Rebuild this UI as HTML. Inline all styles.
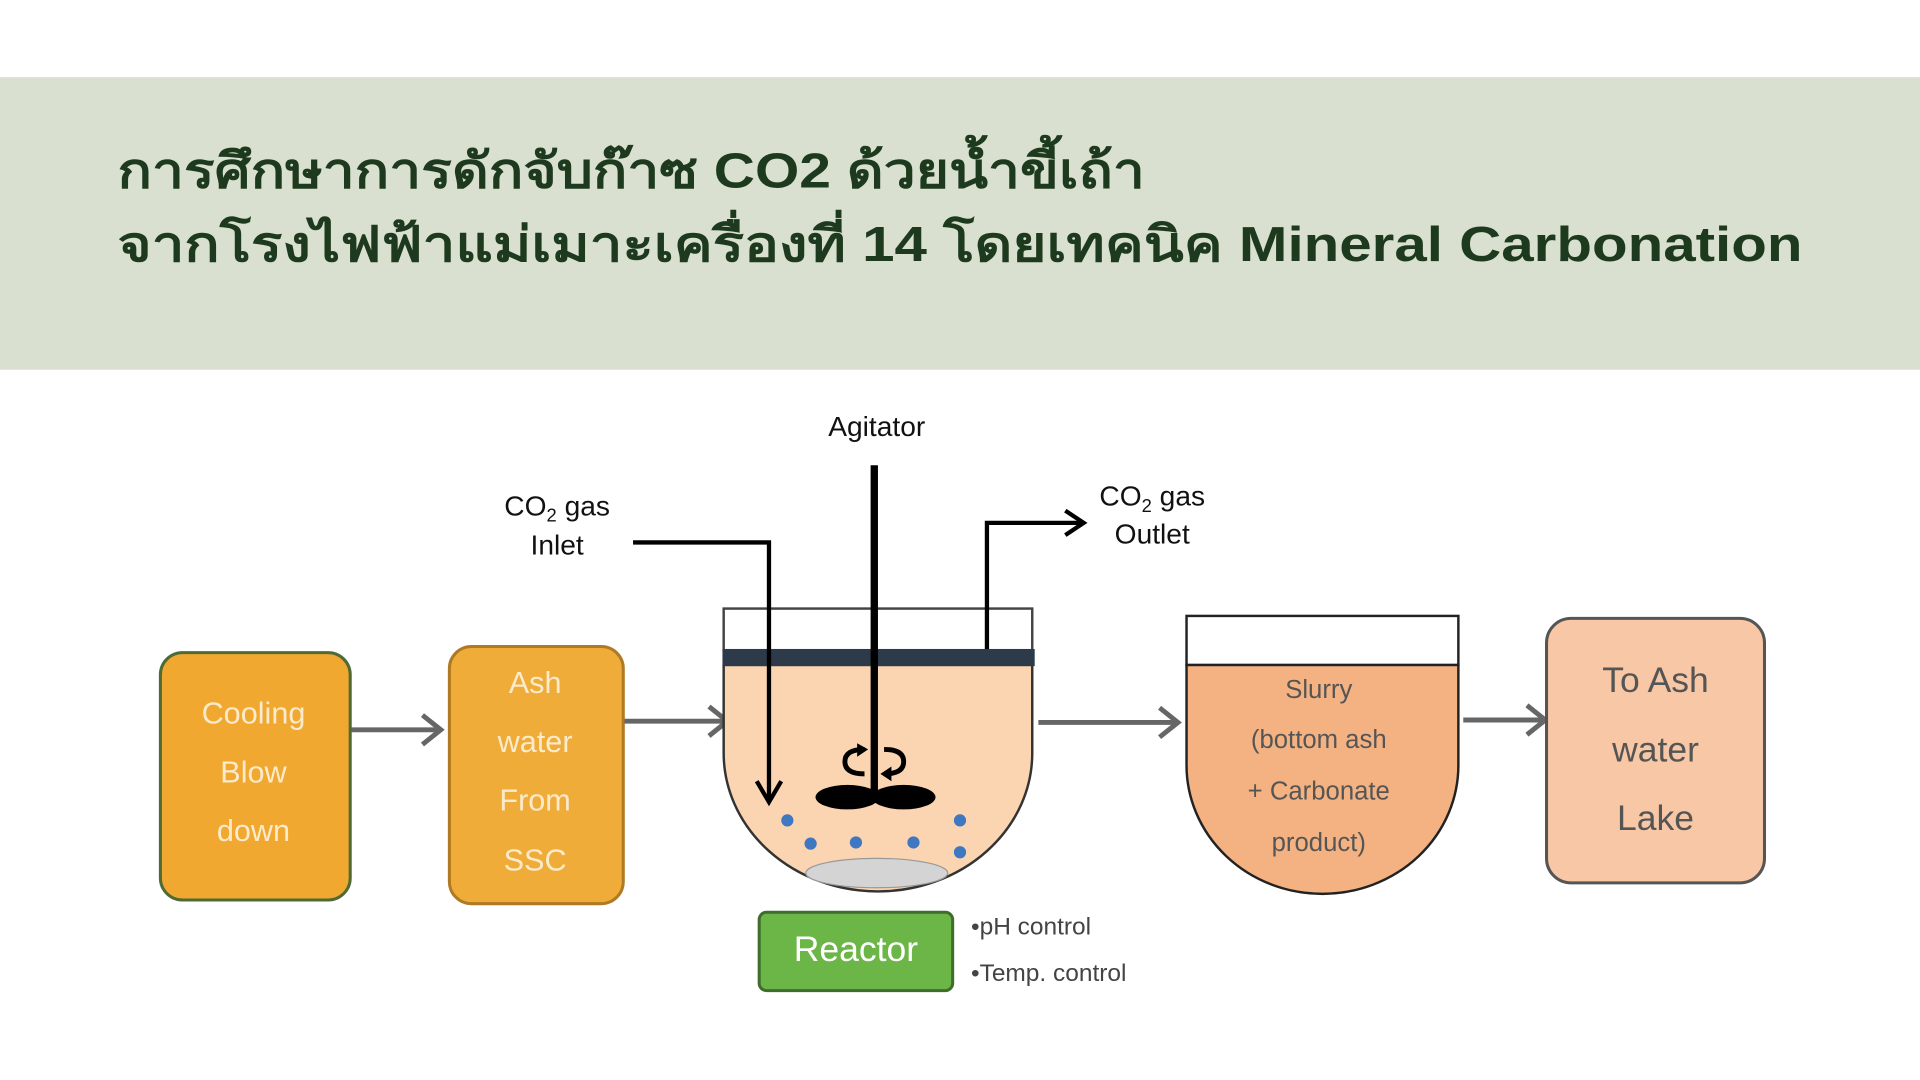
<!DOCTYPE html>
<html><head><meta charset="utf-8"><style>
html,body{margin:0;padding:0;background:#fff;}
svg{display:block;}
text{font-family:"Liberation Sans","DejaVu Sans",sans-serif;}
</style></head><body>
<svg width="1920" height="1080" viewBox="0 0 1568 882" preserveAspectRatio="none" xmlns="http://www.w3.org/2000/svg">
<rect x="0" y="0" width="1568" height="882" fill="#fff"/>
<rect x="0" y="63" width="1568" height="239" fill="#d9e0cf"/>
<text x="96" y="153" font-size="40" font-weight="bold" fill="#1e3a1e" textLength="839" lengthAdjust="spacingAndGlyphs">การศึกษาการดักจับก๊าซ CO2 ด้วยน้ำขี้เถ้า</text>
<text x="96" y="213" font-size="40" font-weight="bold" fill="#1e3a1e" textLength="1376" lengthAdjust="spacingAndGlyphs">จากโรงไฟฟ้าแม่เมาะเครื่องที่ 14 โดยเทคนิค Mineral Carbonation</text>

<rect x="131" y="533" width="155" height="202" rx="18" fill="#f0a830" stroke="#4f6b35" stroke-width="2.5"/>
<g font-size="25" fill="#fbeacb" text-anchor="middle">
<text x="207" y="591">Cooling</text><text x="207" y="639">Blow</text><text x="207" y="687">down</text>
</g>
<rect x="367" y="528" width="142" height="210" rx="18" fill="#f0ac38" stroke="#b07a25" stroke-width="2.5"/>
<g font-size="25" fill="#fbeacb" text-anchor="middle">
<text x="437" y="566">Ash</text><text x="437" y="614">water</text><text x="437" y="662">From</text><text x="437" y="711">SSC</text>
</g>

<g stroke="#666" stroke-width="4" fill="none">
<line x1="287" y1="596" x2="360" y2="596"/><polyline points="345,584 360,596 345,608"/>
<line x1="510" y1="589" x2="594" y2="589"/><polyline points="579,577 594,589 579,601"/>
<line x1="848" y1="590" x2="962" y2="590"/><polyline points="947,578 962,590 947,602"/>
<line x1="1195" y1="588" x2="1262" y2="588"/><polyline points="1247,576 1262,588 1247,600"/>
</g>

<path d="M591,543 L591,615 A126,113 0 0 0 843,615 L843,543 Z" fill="#fbd5b2" stroke="#333" stroke-width="2"/>
<rect x="591" y="497" width="252" height="34" fill="#fff" stroke="#444" stroke-width="2"/>
<rect x="590" y="530" width="255" height="14" fill="#2d3a4a"/>
<ellipse cx="716" cy="713" rx="58" ry="12" fill="#d4d4d4" stroke="#999" stroke-width="1"/>
<g fill="#3f78c0">
<circle cx="643" cy="670" r="5"/><circle cx="662" cy="689" r="5"/><circle cx="699" cy="688" r="5"/>
<circle cx="746" cy="688" r="5"/><circle cx="784" cy="670" r="5"/><circle cx="784" cy="696" r="5"/>
</g>
<line x1="714" y1="380" x2="714" y2="650" stroke="#000" stroke-width="6"/>
<ellipse cx="692" cy="651" rx="26" ry="10" fill="#000"/>
<ellipse cx="738" cy="651" rx="26" ry="10" fill="#000"/>
<g stroke="#000" stroke-width="4" fill="none">
<path d="M706,612 Q690,612 690,622 Q690,632 706,632"/>
<path d="M722,612 Q738,612 738,622 Q738,632 722,632"/>
</g>
<path d="M700,607 L709,612 L700,618 Z M728,626 L719,632 L728,638 Z" fill="#000"/>
<g stroke="#000" stroke-width="3.5" fill="none">
<polyline points="517,443 628,443 628,653"/>
<polyline points="618,638 628,655 638,638"/>
<polyline points="806,530 806,427 884,427"/>
<polyline points="870,417 885,427 870,437"/>
</g>
<g font-size="23" fill="#111" text-anchor="middle">
<text x="716" y="356">Agitator</text>
<text x="455" y="421">CO<tspan font-size="15" dy="5">2</tspan><tspan dy="-5"> gas</tspan></text>
<text x="455" y="453">Inlet</text>
<text x="941" y="413">CO<tspan font-size="15" dy="5">2</tspan><tspan dy="-5"> gas</tspan></text>
<text x="941" y="444">Outlet</text>
</g>

<path d="M969,543 L969,625 A111,105 0 0 0 1191,625 L1191,543 Z" fill="#f4b282" stroke="#222" stroke-width="2"/>
<rect x="969" y="503" width="222" height="40" fill="#fff" stroke="#222" stroke-width="2"/>
<g font-size="21" fill="#555" text-anchor="middle">
<text x="1077" y="570">Slurry</text><text x="1077" y="611">(bottom ash</text>
<text x="1077" y="653">+ Carbonate</text><text x="1077" y="695">product)</text>
</g>

<rect x="1263" y="505" width="178" height="216" rx="20" fill="#f8c8a6" stroke="#555" stroke-width="2.5"/>
<g font-size="29" fill="#555" text-anchor="middle">
<text x="1352" y="565">To Ash</text><text x="1352" y="622">water</text><text x="1352" y="678">Lake</text>
</g>

<rect x="620" y="745" width="158" height="64" rx="6" fill="#6cb648" stroke="#3e6d2c" stroke-width="2.5"/>
<text x="699" y="785" font-size="29" fill="#fff" text-anchor="middle">Reactor</text>
<g font-size="20" fill="#444">
<text x="793" y="763">•pH control</text>
<text x="793" y="801">•Temp. control</text>
</g>
</svg>
</body></html>
